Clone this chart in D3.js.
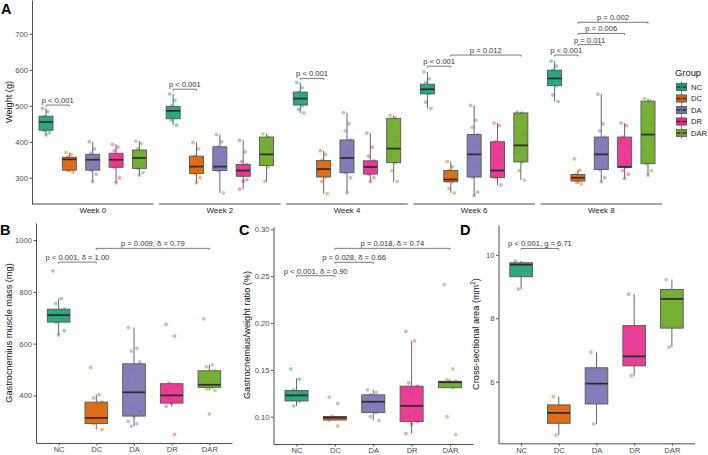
<!DOCTYPE html>
<html>
<head>
<meta charset="utf-8">
<script src="https://cdn.jsdelivr.net/npm/d3@7"></script>
<style>
  body { margin: 0; background: #fff; }
  text { font-family: "Liberation Sans", Arial, sans-serif; }
</style>
</head>
<body>
<script>
// ---- data ----
const groups = ["NC", "DC", "DA", "DR", "DAR"];
const colors = ["#1B9E77", "#D95F02", "#7570B3", "#E7298A", "#66A61E"];
const weeks = ["Week 0", "Week 2", "Week 4", "Week 6", "Week 8"];

// box stats per group: [lower whisker, q1, median, q3, upper whisker]
const weightBoxes = [
  [[419, 432, 455, 471, 493], [316, 321, 351, 357, 370], [289, 321, 350, 365, 400], [286, 329, 350, 368, 393], [307, 326, 355, 377, 402]],
  [[446, 464, 486, 498, 533], [286, 312, 331, 360, 398], [258, 320, 331, 386, 420], [268, 304, 320, 337, 404], [289, 334, 365, 413, 422]],
  [[480, 502, 520, 538, 565], [256, 302, 324, 348, 375], [258, 314, 355, 405, 481], [289, 310, 330, 347, 424], [289, 342, 381, 465, 473]],
  [[493, 533, 546, 560, 594], [258, 289, 295, 320, 345], [250, 302, 365, 420, 501], [280, 301, 320, 400, 452], [294, 344, 390, 480, 483]],
  [[512, 556, 576, 599, 624], [283, 291, 300, 309, 321], [289, 323, 365, 413, 532], [298, 330, 330, 413, 452], [307, 339, 420, 513, 520]]
];
const weightPoints = [
  [[493, 484, 470, 462, 455, 450, 440, 432, 425, 419], [370, 365, 357, 352, 350, 340, 330, 321, 316], [400, 380, 368, 355, 350, 340, 330, 321, 310, 289], [393, 385, 375, 360, 350, 345, 335, 329, 300, 286], [402, 395, 380, 370, 355, 350, 340, 326, 315, 307]],
  [[533, 515, 500, 490, 486, 480, 470, 460, 446], [398, 380, 360, 345, 335, 325, 320, 312, 300, 286], [420, 400, 386, 370, 340, 331, 325, 320, 258], [404, 372, 345, 337, 330, 320, 315, 310, 295, 290, 268], [422, 413, 400, 385, 365, 350, 330, 290]],
  [[565, 550, 538, 530, 520, 510, 500, 490, 480], [375, 365, 348, 340, 330, 318, 302, 290, 256], [481, 450, 430, 405, 380, 355, 330, 314, 300, 258], [424, 385, 360, 347, 340, 330, 325, 310, 300, 289], [473, 466, 440, 400, 381, 360, 342, 320, 290]],
  [[594, 575, 565, 555, 546, 540, 535, 510, 493], [345, 330, 320, 305, 295, 290, 289, 270, 258], [501, 460, 440, 420, 390, 365, 330, 302, 260, 250], [452, 445, 400, 380, 350, 320, 310, 301, 280], [483, 480, 440, 420, 390, 370, 344, 320, 294]],
  [[624, 610, 599, 590, 576, 565, 556, 530, 512], [353, 321, 309, 303, 300, 296, 291, 288, 283], [532, 450, 430, 413, 390, 365, 340, 323, 300, 289], [452, 445, 413, 390, 360, 335, 330, 320, 310, 298], [520, 513, 480, 450, 420, 380, 350, 339, 320, 307]]
];
// weight comparisons: [week, from, to, y value, label]
const weightSig = [
  [0, "NC", "DC", 502, "p < 0.001"],
  [1, "NC", "DC", 546, "p < 0.001"],
  [2, "NC", "DC", 576, "p < 0.001"],
  [3, "NC", "DC", 610, "p < 0.001"],
  [3, "DC", "DAR", 641, "p = 0.012"],
  [4, "NC", "DC", 641, "p < 0.001"],
  [4, "DC", "DA", 670, "p = 0.011"],
  [4, "DC", "DR", 701, "p = 0.006"],
  [4, "DC", "DAR", 732, "p = 0.002"]
];

const massBoxes = [[633, 683, 710, 733, 774], [268, 291, 313, 374, 403], [281, 320, 412, 522, 662], [358, 370, 400, 445, 447], [419, 431, 441, 495, 518]];
const massPoints = [
  [881, 774, 755, 733, 715, 710, 700, 683, 650, 633],
  [508, 403, 390, 374, 360, 313, 300, 291, 268],
  [662, 582, 571, 530, 500, 470, 412, 350, 340, 320, 300, 290, 281],
  [674, 629, 447, 440, 430, 415, 400, 390, 380, 370, 358, 249],
  [696, 518, 510, 495, 441, 435, 431, 425, 419, 328]
];
const massSig = [["NC", "DC", 915, "p < 0.001, δ = 1.00"], ["DC", "DAR", 968, "p = 0.009, δ = 0.79"]];

const ratioBoxes = [[0.1116, 0.1168, 0.1228, 0.128, 0.141], [0.0965, 0.0965, 0.099, 0.1003, 0.1003], [0.096, 0.1045, 0.116, 0.1234, 0.1287], [0.082, 0.0948, 0.1116, 0.1326, 0.181], [0.131, 0.131, 0.1368, 0.1378, 0.1395]];
const ratioPoints = [
  [0.151, 0.140, 0.1287, 0.125, 0.1228, 0.120, 0.1168, 0.1116],
  [0.121, 0.114, 0.1003, 0.099, 0.098, 0.0965, 0.090],
  [0.1287, 0.126, 0.1234, 0.120, 0.116, 0.110, 0.1045, 0.100, 0.096],
  [0.191, 0.181, 0.136, 0.1326, 0.125, 0.1116, 0.105, 0.100, 0.0948, 0.092, 0.082],
  [0.241, 0.151, 0.1395, 0.138, 0.1368, 0.135, 0.131, 0.100, 0.081]
];
const ratioSig = [["NC", "DC", 0.2505, "p < 0.001, δ = 0.90"], ["DC", "DA", 0.2648, "p = 0.028, δ = 0.66"], ["DC", "DAR", 0.2797, "p = 0.018, δ = 0.74"]];

const csaBoxes = [[8.92, 9.31, 9.69, 9.75, 9.81], [4.32, 4.69, 5.02, 5.27, 5.53], [4.67, 5.30, 5.94, 6.44, 6.93], [6.19, 6.50, 6.80, 7.77, 8.76], [7.09, 7.69, 8.61, 8.91, 9.22]];
const csaPoints = [[9.81, 9.69, 8.92], [5.53, 5.02, 4.32], [6.93, 5.94, 4.67], [8.76, 6.80, 6.19], [9.22, 8.61, 7.09]];
const csaSig = [["NC", "DC", 10.2, "p < 0.001, g = 6.71"]];

// ---- drawing ----
const W = 708, H = 455;
const axisCol = "#4d4d4d", tickFont = 7.6;
const svg = d3.select("body").append("svg").attr("width", W).attr("height", H);

const jit = j => (((j * 3) % 5) - 2) / 2;

function drawBoxes(g, xs, y, boxes, points) {
  const bw = xs.step() * 0.6;
  groups.forEach((grp, i) => {
    const cx = xs(grp), b = boxes[i], c = colors[i];
    g.append("g").selectAll("circle").data(points[i]).join("circle")
      .attr("cx", (d, j) => cx + jit(j) * bw * 0.25)
      .attr("cy", d => y(d))
      .attr("r", 1.9)
      .attr("fill", c)
      .attr("fill-opacity", 0.45);
    g.append("line").attr("x1", cx).attr("x2", cx).attr("y1", y(b[0])).attr("y2", y(b[1]))
      .attr("stroke", "#555").attr("stroke-width", 0.9);
    g.append("line").attr("x1", cx).attr("x2", cx).attr("y1", y(b[3])).attr("y2", y(b[4]))
      .attr("stroke", "#555").attr("stroke-width", 0.9);
    g.append("rect")
      .attr("x", cx - bw / 2).attr("y", y(b[3]))
      .attr("width", bw).attr("height", Math.max(0.5, y(b[1]) - y(b[3])))
      .attr("fill", c).attr("fill-opacity", 0.9)
      .attr("stroke", "#555").attr("stroke-width", 0.9);
    g.append("line").attr("x1", cx - bw / 2).attr("x2", cx + bw / 2)
      .attr("y1", y(b[2])).attr("y2", y(b[2]))
      .attr("stroke", "#2b2b2b").attr("stroke-width", 1.7);
  });
}

function bracket(g, x1, x2, yy, label) {
  g.append("path")
    .attr("d", `M${x1},${yy + 1.5}V${yy}H${x2}V${yy + 1.5}`)
    .attr("fill", "none").attr("stroke", "#444").attr("stroke-width", 0.7);
  g.append("text").attr("x", (x1 + x2) / 2).attr("y", yy - 2)
    .attr("text-anchor", "middle").attr("font-size", 7.6).attr("fill", "#333")
    .text(label);
}

function yAxis(g, y, ticks, fmt, x0) {
  const ax = g.append("g").attr("transform", `translate(${x0},0)`)
    .call(d3.axisLeft(y).tickValues(ticks).tickFormat(fmt).tickSize(2.5).tickSizeOuter(0).tickPadding(1.5));
  ax.select(".domain").attr("stroke", axisCol).attr("stroke-width", 1);
  ax.selectAll(".tick line").attr("stroke", axisCol);
  ax.selectAll(".tick text").attr("fill", axisCol).attr("font-size", tickFont)
    .attr("font-family", "Liberation Sans, Arial, sans-serif");
}

function xAxis(g, xs, y0) {
  const ax = g.append("g").attr("transform", `translate(0,${y0})`)
    .call(d3.axisBottom(xs).tickSize(2.5).tickSizeOuter(0).tickPadding(1.5));
  ax.select(".domain").attr("stroke", axisCol).attr("stroke-width", 1);
  ax.selectAll(".tick line").attr("stroke", axisCol);
  ax.selectAll(".tick text").attr("fill", axisCol).attr("font-size", tickFont)
    .attr("font-family", "Liberation Sans, Arial, sans-serif");
}

function yTitle(g, x, yc, txt, sup) {
  const t = g.append("text").attr("transform", `translate(${x},${yc}) rotate(-90)`)
    .attr("text-anchor", "middle").attr("font-size", 9.2).attr("fill", "#111").text(txt);
  if (sup) {
    t.append("tspan").attr("font-size", 6.5).attr("dy", -3.5).text(sup);
    t.append("tspan").attr("dy", 3.5).text(")");
  }
}

function panelTag(x, y, s) {
  svg.append("text").attr("x", x).attr("y", y).attr("font-size", 14.5)
    .attr("font-weight", "bold").attr("fill", "#000").text(s);
}

// ---- panel A ----
const gA = svg.append("g");
const yA = d3.scaleLinear().domain([227, 794]).range([204, 0]);
const facet = d3.scaleBand().domain(weeks).range([32, 662]).paddingInner(0.045);
const facetX = weeks.map(wk => d3.scalePoint().domain(groups)
  .range([facet(wk), facet(wk) + facet.bandwidth()]).padding(0.6));

weeks.forEach((wk, k) => {
  drawBoxes(gA, facetX[k], yA, weightBoxes[k], weightPoints[k]);
  gA.append("line").attr("x1", facet(wk)).attr("x2", facet(wk) + facet.bandwidth())
    .attr("y1", 204).attr("y2", 204).attr("stroke", axisCol).attr("stroke-width", 1);
  gA.append("text").attr("x", facet(wk) + facet.bandwidth() / 2).attr("y", 212.5)
    .attr("text-anchor", "middle").attr("font-size", 7.9).attr("fill", "#222").text(wk);
});
weightSig.forEach(([k, a, b, v, lab]) => bracket(gA, facetX[k](a), facetX[k](b), yA(v), lab));
yAxis(gA, yA, [300, 400, 500, 600, 700], d3.format("d"), 32);
yTitle(gA, 11.5, 102, "Weight (g)");
panelTag(1, 14, "A");

// legend
const leg = svg.append("g").attr("transform", "translate(675,0)");
leg.append("text").attr("x", 0).attr("y", 76).attr("font-size", 9.4).attr("fill", "#111").text("Group");
groups.forEach((grp, i) => {
  const cy = 87 + i * 11.5;
  const k = leg.append("g");
  k.append("line").attr("x1", 6.5).attr("x2", 6.5).attr("y1", cy - 5.5).attr("y2", cy + 5.5)
    .attr("stroke", "#555").attr("stroke-width", 0.8);
  k.append("rect").attr("x", 1.5).attr("y", cy - 3.6).attr("width", 10).attr("height", 7.2)
    .attr("fill", colors[i]).attr("stroke", "#555").attr("stroke-width", 0.8);
  k.append("line").attr("x1", 1.5).attr("x2", 11.5).attr("y1", cy).attr("y2", cy)
    .attr("stroke", "#2b2b2b").attr("stroke-width", 1.3);
  k.append("circle").attr("cx", 6.5).attr("cy", cy).attr("r", 1.8)
    .attr("fill", colors[i]).attr("fill-opacity", 0.6);
  leg.append("text").attr("x", 16).attr("y", cy + 2.7).attr("font-size", 7.6).attr("fill", "#222").text(grp);
});

// ---- panel B ----
const gB = svg.append("g");
const xB = d3.scalePoint().domain(groups).range([36, 232]).padding(0.6);
const yB = d3.scaleLinear().domain([216, 1066]).range([443, 223]);
drawBoxes(gB, xB, yB, massBoxes, massPoints);
massSig.forEach(([a, b, v, lab]) => bracket(gB, xB(a), xB(b), yB(v), lab));
yAxis(gB, yB, [400, 600, 800, 1000], d3.format("d"), 36);
xAxis(gB, xB, 443);
yTitle(gB, 11.5, 333, "Gastrocnemius muscle mass (mg)");
panelTag(0, 235, "B");

// ---- panel C ----
const gC = svg.append("g");
const xC = d3.scalePoint().domain(groups).range([273.5, 473]).padding(0.6);
const yC = d3.scaleLinear().domain([0.0709, 0.3028]).range([444, 226.7]);
drawBoxes(gC, xC, yC, ratioBoxes, ratioPoints);
ratioSig.forEach(([a, b, v, lab]) => bracket(gC, xC(a), xC(b), yC(v), lab));
yAxis(gC, yC, [0.10, 0.15, 0.20, 0.25, 0.30], d3.format(".2f"), 273.5);
xAxis(gC, xC, 444);
yTitle(gC, 249.5, 335, "Gastrocnemius/weight ratio (%)");
panelTag(239, 235, "C");

// ---- panel D ----
const gD = svg.append("g");
const xD = d3.scalePoint().domain(groups).range([498.5, 694.5]).padding(0.6);
const yD = d3.scaleLinear().domain([4.06, 10.94]).range([443.3, 225]);
drawBoxes(gD, xD, yD, csaBoxes, csaPoints);
csaSig.forEach(([a, b, v, lab]) => bracket(gD, xD(a), xD(b), yD(v), lab));
yAxis(gD, yD, [6, 8, 10], d3.format("d"), 498.5);
xAxis(gD, xD, 443.3);
yTitle(gD, 478.5, 334, "Cross-sectional area (mm", "2");
panelTag(460, 235, "D");
</script>
</body>
</html>
